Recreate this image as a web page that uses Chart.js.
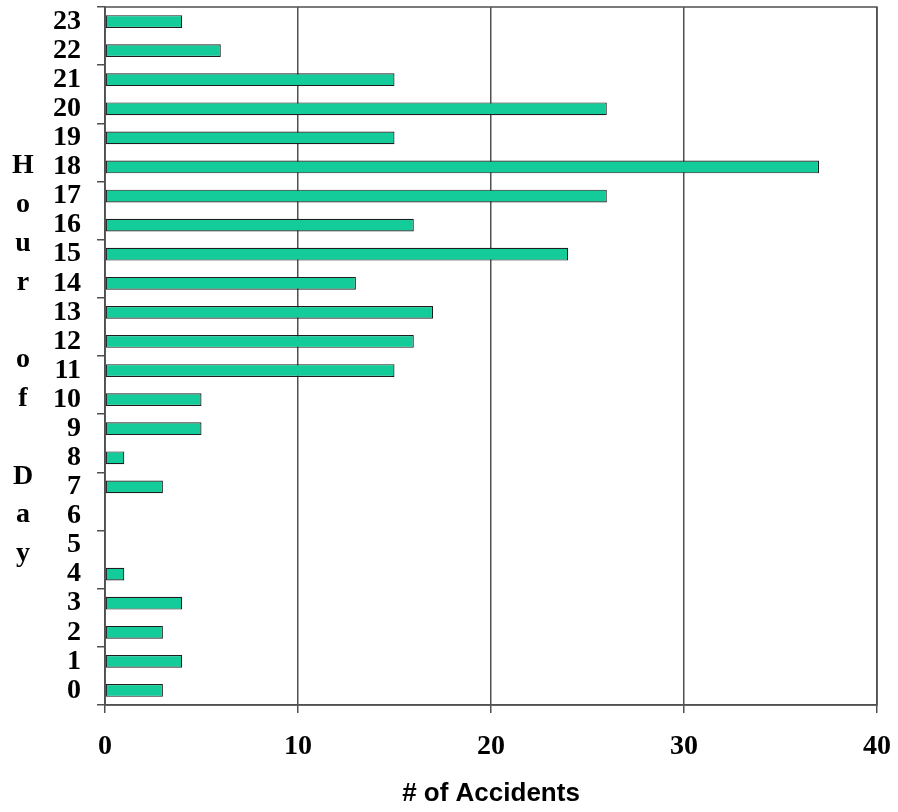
<!DOCTYPE html>
<html>
<head>
<meta charset="utf-8">
<script src="https://cdn.jsdelivr.net/npm/chart.js@4"></script>
<style>
  html, body { margin: 0; padding: 0; background: #fff; }
  #wrap { width: 898px; height: 812px; }
</style>
</head>
<body>
<div id="wrap"><canvas id="accChart" width="898" height="812"></canvas></div>
<script>
const hours = ['0', '1', '2', '3', '4', '5', '6', '7', '8', '9', '10', '11',
               '12', '13', '14', '15', '16', '17', '18', '19', '20', '21', '22', '23'];
const accidents = [3, 4, 3, 4, 1, 0, 0, 3, 1, 5, 5, 15,
                   16, 17, 13, 24, 16, 26, 37, 15, 26, 15, 6, 4];
const xTicks = [0, 10, 20, 30, 40];
const yTitle = 'Hour of Day';
const xTitle = '# of Accidents';

const lineColor = '#505050';

// frame round the plot + stacked letters for the y title
const framePlugin = {
    id: 'frame',
    afterDraw(chart) {
        const { ctx, chartArea } = chart;
        ctx.save();
        ctx.strokeStyle = lineColor;
        ctx.lineWidth = 1.5;
        ctx.strokeRect(chartArea.left, chartArea.top, chartArea.right - chartArea.left, chartArea.bottom - chartArea.top);

        ctx.fillStyle = '#000';
        ctx.font = 'bold 28px "Liberation Serif", "Times New Roman", serif';
        ctx.textAlign = 'center';
        ctx.textBaseline = 'middle';
        const step = 38.8;
        const mid = (chartArea.top + chartArea.bottom) / 2 + 4;
        const letters = yTitle.split('');
        const start = mid - step * (letters.length - 1) / 2;
        letters.forEach((ch, i) => {
            if (ch !== ' ') ctx.fillText(ch, 23, start + i * step);
        });
        ctx.restore();
    }
};

const accCtx = document.getElementById('accChart').getContext('2d');

const accChart = new Chart(accCtx, {
    type: 'bar',
    data: {
        labels: hours,
        datasets: [{
            label: xTitle,
            data: accidents,
            backgroundColor: '#14CC99',
            borderColor: '#1e1e1e',
            borderWidth: 1.2,
            borderSkipped: false,
            barPercentage: 0.44,
            categoryPercentage: 1.0,
        }],
    },
    options: {
        indexAxis: 'y',
        responsive: false,
        animation: false,
        layout: {
            padding: { top: 7, right: 21, left: 0, bottom: 0 },
        },
        scales: {
            x: {
                min: 0,
                max: 40,
                afterBuildTicks: (scale) => {
                    scale.ticks = xTicks.map(v => ({ value: v }));
                },
                afterFit: (scale) => {
                    scale.height = 107;
                    scale.paddingLeft = 0;
                    scale.paddingRight = 0;
                },
                grid: {
                    color: lineColor,
                    lineWidth: 1.5,
                    tickLength: 8,
                    tickColor: lineColor,
                },
                border: { color: lineColor, width: 1.5 },
                ticks: {
                    color: '#000',
                    padding: 17,
                    font: { family: '"Liberation Serif", "Times New Roman", serif', weight: 'bold', size: 28 },
                },
                title: {
                    display: true,
                    text: xTitle,
                    color: '#000',
                    padding: { top: 0, bottom: 3 },
                    font: { family: '"Liberation Sans", Arial, sans-serif', weight: 'bold', size: 26 },
                },
            },
            y: {
                reverse: true,
                afterFit: (scale) => {
                    scale.width = 105;
                    scale.paddingTop = 0;
                    scale.paddingBottom = 0;
                },
                grid: {
                    offset: true,
                    drawOnChartArea: false,
                    tickLength: 8,
                    lineWidth: 1.5,
                    color: (c) => (c.index === undefined || c.index % 2 === 0) ? lineColor : 'rgba(0,0,0,0)',
                },
                border: { color: lineColor, width: 1.5 },
                ticks: {
                    color: '#000',
                    padding: 16,
                    autoSkip: false,
                    font: { family: '"Liberation Serif", "Times New Roman", serif', weight: 'bold', size: 28 },
                },
            },
        },
        plugins: {
            legend: { display: false },
            tooltip: { enabled: false },
        },
    },
    plugins: [framePlugin],
});
</script>
</body>
</html>
